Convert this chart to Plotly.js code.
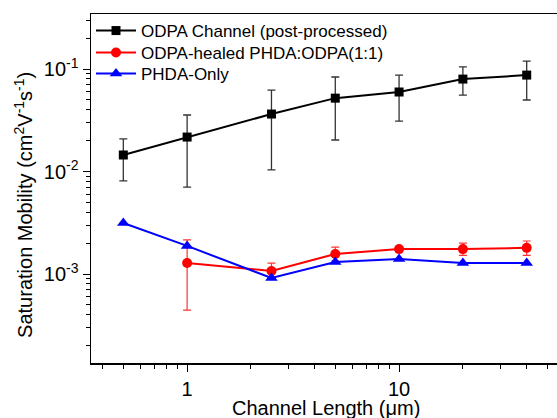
<!DOCTYPE html>
<html><head><meta charset="utf-8">
<script src="https://cdn.plot.ly/plotly-3.0.1.min.js"></script>
<style>html,body{margin:0;padding:0;background:#fff}</style>
</head><body><div id="chart" style="width:557px;height:418px"></div>
<script>
const channelLength = [0.5, 1, 2.5, 5, 10, 20, 40];
const odpaY    = [0.0145, 0.0217, 0.0364, 0.052, 0.0597, 0.0798, 0.0873];
const odpaHi   = [0.0208, 0.0356, 0.0624, 0.0836, 0.0874, 0.105, 0.1196];
const odpaLo   = [0.0081, 0.00706, 0.0104, 0.0203, 0.0311, 0.0557, 0.0499];
const healedX  = [1, 2.5, 5, 10, 20, 40];
const healedY  = [0.00128, 0.00107, 0.00157, 0.00175, 0.00175, 0.0018];
const healedHi = [0.00215, 0.00128, 0.00183, 0.00182, 0.0020, 0.0021];
const healedLo = [0.000445, 0.00092, 0.00134, 0.00168, 0.00152, 0.00152];
const phdaY    = [0.00315, 0.00188, 0.000914, 0.00131, 0.0014, 0.00128, 0.00128];
const yTickVals = [0.001, 0.01, 0.1];
const yTickText = ['10<sup>-3</sup>', '10<sup>-2</sup>', '10<sup>-1</sup>'];
const xTickVals = [1, 10];
const xTickText = ['1', '10'];

function minorVals(lo, hi){ const v=[]; for(let e=lo;e<=hi;e++){ for(let m=2;m<=9;m++) v.push(m*Math.pow(10,e)); } return v; }

function errs(y, hi, lo){ return {plus: hi.map((h,i)=>h-y[i]), minus: lo.map((l,i)=>y[i]-l)}; }
const eO = errs(odpaY, odpaHi, odpaLo);
const eH = errs(healedY, healedHi, healedLo);

const traces = [
 {x: channelLength, y: odpaY, name: 'ODPA Channel (post-processed)', mode: 'lines+markers', legend: 'legend',
  line: {color: '#000', width: 2}, marker: {symbol: 'square', size: 9, color: '#000'},
  error_y: {type: 'data', symmetric: false, array: eO.plus, arrayminus: eO.minus, color: '#333', thickness: 1.3, width: 4}},
 {x: healedX, y: healedY, name: 'ODPA-healed PHDA:ODPA(1:1)', mode: 'lines+markers', legend: 'legend2',
  line: {color: '#ff0000', width: 2}, marker: {symbol: 'circle', size: 10, color: '#ff0000'},
  error_y: {type: 'data', symmetric: false, array: eH.plus, arrayminus: eH.minus, color: '#ff3333', thickness: 1.2, width: 4}},
 {x: channelLength, y: phdaY, name: 'PHDA-Only', mode: 'lines+markers', legend: 'legend3',
  line: {color: '#0000ff', width: 2}, marker: {symbol: 'triangle-up', size: 11, color: '#0000ff'}}
];

const fam = 'Liberation Sans, Arial, sans-serif';
const font = {family: fam, color: '#000'};
function leg(py){ return {x: 0.0, y: (363 - py) / 349, xanchor: 'left', yanchor: 'middle', bgcolor: 'rgba(0,0,0,0)',
   font: Object.assign({size: 17}, font), itemwidth: 40, borderwidth: 0}; }
const layout = {
 width: 557, height: 418,
 margin: {l: 91, r: 0, t: 14, b: 55},
 paper_bgcolor: '#fff', plot_bgcolor: '#fff',
 font: Object.assign({size: 16}, font),
 showlegend: true,
 legend: leg(31), legend2: leg(53), legend3: leg(74),
 xaxis: {type: 'log', range: [Math.log10(0.352), 1.745], showgrid: false, zeroline: false,
   showline: true, linecolor: '#000', linewidth: 1.5, mirror: true,
   ticks: 'outside', ticklen: 7, tickwidth: 1, tickcolor: '#000',
   tickmode: 'array', tickvals: xTickVals, ticktext: xTickText, tickfont: Object.assign({size: 20}, font),
   minor: {tickmode: 'array', tickvals: minorVals(-1, 1), ticks: 'outside', ticklen: 4, tickcolor: '#000', showgrid: false}},
 yaxis: {type: 'log', range: [-3.868, -0.463], showgrid: false, zeroline: false,
   showline: true, linecolor: '#000', linewidth: 1.5, mirror: true,
   ticks: 'outside', ticklen: 7, tickwidth: 1, tickcolor: '#000',
   tickmode: 'array', tickvals: yTickVals, ticktext: yTickText, tickfont: Object.assign({size: 20}, font),
   minor: {tickmode: 'array', tickvals: minorVals(-4, -1), ticks: 'outside', ticklen: 4, tickcolor: '#000', showgrid: false}},
 annotations: [
  {text: 'Channel Length (μm)', xref: 'paper', yref: 'paper', x: 0.505, y: 0, xanchor: 'center', yanchor: 'middle',
   yshift: -45, showarrow: false, font: Object.assign({size: 20}, font)},
  {text: 'Saturation Mobility (cm<sup>2</sup>V<sup>-1</sup>s<sup>-1</sup>)', xref: 'paper', yref: 'paper',
   x: 0, y: 0.453, xanchor: 'center', yanchor: 'middle', xshift: -67, textangle: -90, showarrow: false,
   font: Object.assign({size: 20}, font)}
 ]
};
Plotly.newPlot('chart', traces, layout, {displayModeBar: false, staticPlot: true});
</script></body></html>
